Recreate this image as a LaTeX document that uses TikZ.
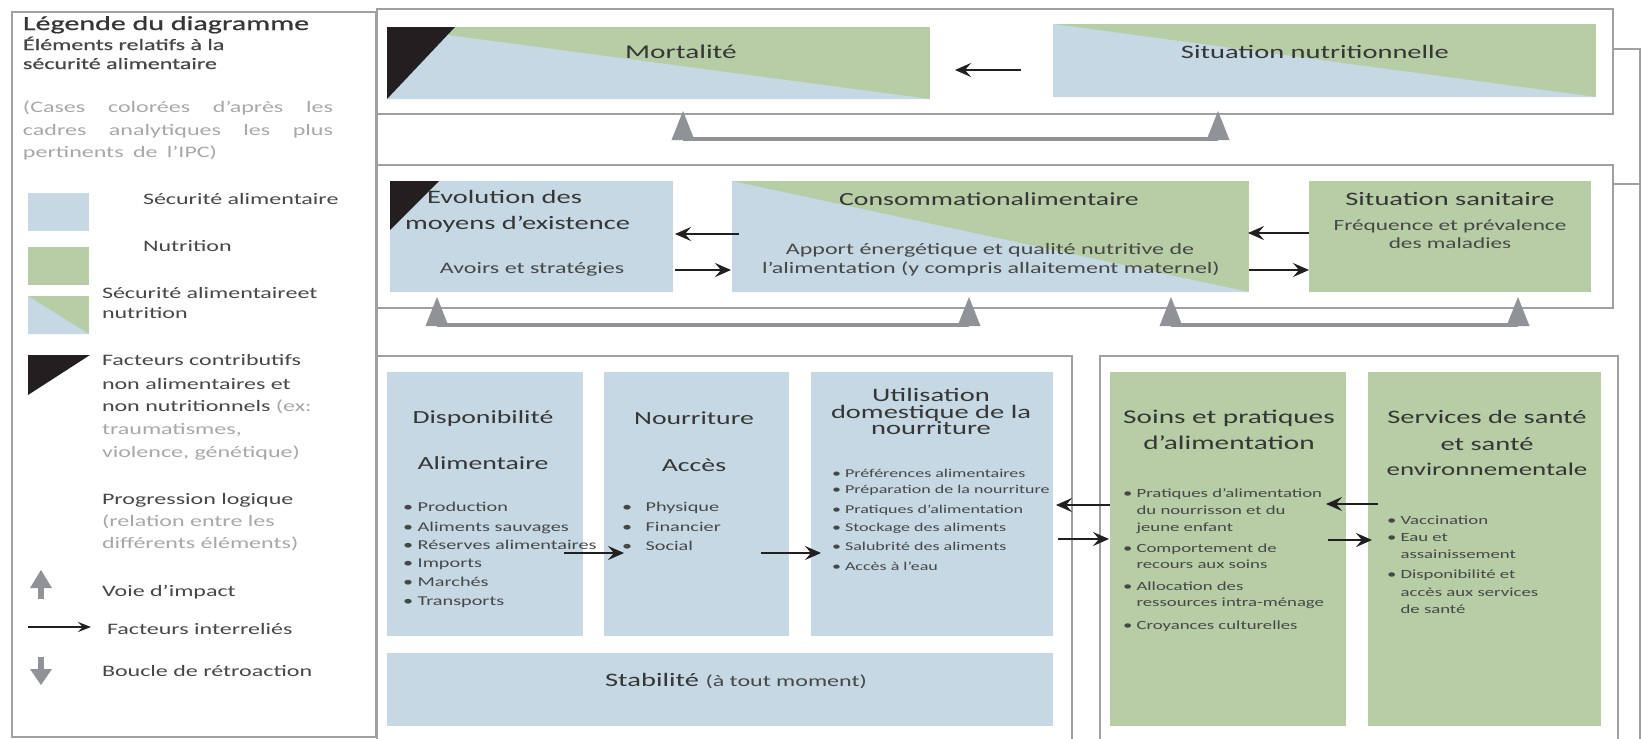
\documentclass[tikz,border=0pt]{standalone}
\usepackage{fontspec}
\setmainfont{Carlito}[FakeStretch=1.5]
\newfontfamily\semib{Carlito}[FakeStretch=1.5,FakeBold=0.7]
\usetikzlibrary{arrows.meta,calc,fit}
\definecolor{fsblue}{HTML}{C5D8E3}
\definecolor{nutgreen}{HTML}{B7CDA6}
\definecolor{framegray}{HTML}{9EA0A4}
\definecolor{impgray}{HTML}{8F9297}
\definecolor{txtdark}{HTML}{363636}
\definecolor{txtmid}{HTML}{474747}
\definecolor{txtlight}{HTML}{A8A8A8}
\definecolor{blk}{HTML}{231F20}
\newcommand{\fsz}[1]{\fontsize{#1}{#1}\selectfont}
\newcommand{\bulx}{•\ }
\newcommand{\bulind}{\hphantom{•\ }}
\begin{document}
\begin{tikzpicture}[x=1pt,y=-1pt,
  every node/.style={inner sep=0pt,outer sep=0pt},
  frm/.style={draw=framegray,line width=2pt,inner sep=0pt},
  fbl/.style={draw=framegray,line width=2pt},
  lg/.style={anchor=base west,font=\fsz{16},text=txtmid},
  mt/.style={anchor=base,font=\fsz{19},text=txtdark},
  bt/.style={anchor=base,font=\fsz{16},text=txtmid},
  bl/.style={anchor=base west,font=\fsz{12.5},text=txtmid},
  iarr/.style={draw=blk,line width=2pt,-{Stealth[length=16pt,width=14pt,inset=6pt]}},
  impline/.style={draw=impgray,line width=3.5pt},
  imptri/.pic={\fill[impgray] (-11.5,0) -- (0,-29) -- (11.5,0) -- cycle;}
]
\useasboundingbox (0,0) rectangle (1642,739);
\fill[white] (0,0) rectangle (1642,739);
\clip (0,0) rectangle (1642,739);

% ---------- legend ----------
\node[frm,fit={(12,12) (376,737)}] (leg) {};
\node[lg,font=\semib\fsz{20},text=txtdark] (lt) at (23,30) {Légende du diagramme};
\node[lg,font=\semib\fsz{16}] (l1) at (23,50) {Éléments relatifs à la};
\node[lg,font=\semib\fsz{16}] (l2) at (23,69) {sécurité alimentaire};
\node[lg,text=txtlight] (l3) at (23,112) {\makebox[310pt][s]{(Cases colorées d'après les}};
\node[lg,text=txtlight] (l4) at (23,135) {\makebox[310pt][s]{cadres analytiques les plus}};
\node[lg,text=txtlight] (l5) at (23,157) {\makebox[194pt][s]{pertinents de l'IPC)}};

\node[fill=fsblue,fit={(28,193) (89,231)}] (sw1) {};
\node[fill=nutgreen,fit={(28,247) (89,285)}] (sw2) {};
\node[fill=nutgreen,fit={(28,296) (89,334)}] (sw3) {};
\fill[fsblue] (sw3.north west) -- (sw3.south east) -- (sw3.south west) -- cycle;
\fill[blk] (28,355) -- (90,355) -- (28,395) -- cycle;

\node[lg] (t1) at (143,204) {Sécurité alimentaire};
\node[lg] (t2) at (143,251) {Nutrition};
\node[lg] (t3) at (102,298) {Sécurité alimentaireet};
\node[lg] (t4) at (102,318) {nutrition};
\node[lg] (t5) at (102,365) {Facteurs contributifs};
\node[lg] (t6) at (102,389) {non alimentaires et};
\node[lg] (t7) at (102,411) {non nutritionnels \textcolor{txtlight}{(ex:}};
\node[lg,text=txtlight] (t8) at (102,434) {traumatismes,};
\node[lg,text=txtlight] (t9) at (102,457) {violence, génétique)};
\node[lg] (t10) at (102,504) {Progression logique};
\node[lg,text=txtlight] (t11) at (102,526) {(relation entre les};
\node[lg,text=txtlight] (t12) at (102,548) {différents éléments)};
\node[lg] (t13) at (102,596) {Voie d'impact};
\node[lg] (t14) at (107,634) {Facteurs interreliés};
\node[lg] (t15) at (102,676) {Boucle de rétroaction};

\fill[impgray] (30,588) -- (41,570) -- (52,588) -- cycle;
\fill[impgray] (38,587) rectangle (44,599);
\coordinate (la1) at (28,627);
\coordinate (la2) at (91,627);
\draw[iarr,line width=1.5pt,-{Stealth[length=13pt,width=10pt,inset=5pt]}] (la1) -- (la2);
\fill[impgray] (38,657) rectangle (44,670);
\fill[impgray] (30,669) -- (52,669) -- (41,685) -- cycle;

% ---------- frames ----------
\node[frm,fit={(377,9) (1613,114)}] (f1) {};
\node[frm,fit={(377,165) (1613,308)}] (f2) {};
\node[frm,fit={(377,356) (1072,770)}] (f3) {};
\node[frm,fit={(1100,356) (1618,770)}] (f4) {};
\draw[fbl] (f1.north west) -- (f3.south west);

\coordinate (fb1) at (1640,49);
\coordinate (fb2) at (1640,184);
\coordinate (fb3) at (1640,770);
\draw[fbl] ($(f1.east)+(0,-12.5)$) -- (fb1) -- (fb3);
\draw[fbl] ($(f2.east)+(0,-52.5)$) -- (fb2);

% ---------- top row ----------
\node[fill=nutgreen,fit={(387,27) (930,99)}] (mort) {};
\fill[fsblue] (mort.north west) -- (mort.south east) -- (mort.south west) -- cycle;
\fill[blk] (mort.north west) -- ++(68,0) -- (mort.south west) -- cycle;
\node[mt,font=\fsz{19.5}] (mortt) at (681,58) {Mortalité};

\node[fill=nutgreen,fit={(1053,24) (1596,97)}] (sitn) {};
\fill[fsblue] (sitn.north west) -- (sitn.south east) -- (sitn.south west) -- cycle;
\node[mt] (sitnt) at (1315,58) {Situation nutritionnelle};

% ---------- second row ----------
\node[fill=fsblue,fit={(390,181) (673,292)}] (evol) {};
\fill[blk] (evol.north west) -- ++(49,0) -- ($(evol.north west)+(0,49)$) -- cycle;
\node[mt,anchor=base west] (evt1) at (427,203) {Evolution des};
\node[mt,anchor=base west] (evt2) at (405,229) {moyens d'existence};
\node[bt] (evt3) at (532,273) {Avoirs et stratégies};

\node[fill=nutgreen,fit={(732,181) (1249,292)}] (cons) {};
\fill[fsblue] (cons.north west) -- (cons.south east) -- (cons.south west) -- cycle;
\node[mt,font=\fsz{18.5}] (cot1) at (989,205) {Consommationalimentaire};
\node[bt] (cot2) at (990,254) {Apport énergétique et qualité nutritive de};
\node[bt] (cot3) at (991,273) {l'alimentation (y compris allaitement maternel)};

\node[fill=nutgreen,fit={(1309,181) (1591,292)}] (sani) {};
\node[mt] (sat1) at (1450,205) {Situation sanitaire};
\node[bt,font=\fsz{15.5}] (sat2) at (1450,230) {Fréquence et prévalence};
\node[bt,font=\fsz{15.5}] (sat3) at (1450,248) {des maladies};

% ---------- bottom left ----------
\node[fill=fsblue,fit={(387,372) (583,636)}] (disp) {};
\node[mt,font=\fsz{18.5}] (dt1) at (483,423) {Disponibilité};
\node[mt,font=\fsz{18.5}] (dt2) at (483,469) {Alimentaire};
\foreach \t/\yy [count=\i] in {Production/511,Aliments sauvages/531,Réserves alimentaires/549,Imports/567,Marchés/586,Transports/605}
  \node[bl,font=\fsz{13.5}] (db\i) at (403,\yy) {\bulx\t};

\node[fill=fsblue,fit={(604,372) (789,636)}] (nour) {};
\node[mt,font=\fsz{18.5}] (nt1) at (694,424) {Nourriture};
\node[mt,font=\fsz{18.5}] (nt2) at (694,471) {Accès};
\foreach \t/\yy [count=\i] in {Physique/511,Financier/531,Social/550}
  \node[bl,font=\fsz{13.5}] (nb\i) at (622,\yy) {•\quad\t};

\node[fill=fsblue,fit={(811,372) (1053,636)}] (util) {};
\node[mt] (ut1) at (931,401) {Utilisation};
\node[mt] (ut2) at (931,418) {domestique de la};
\node[mt] (ut3) at (931,434) {nourriture};
\foreach \t/\yy [count=\i] in {Préférences alimentaires/477,Préparation de la nourriture/493,Pratiques d'alimentation/513,Stockage des aliments/531,Salubrité des aliments/550,Accès à l'eau/570}
  \node[bl,font=\fsz{12}] (ub\i) at (832,\yy) {\bulx\t};

\node[fill=fsblue,fit={(387,653) (1053,726)}] (stab) {};
\node[mt] (stt) at (736,686) {Stabilité \fsz{16}\color{txtmid}(à tout moment)};

% ---------- bottom right ----------
\node[fill=nutgreen,fit={(1110,372) (1346,726)}] (soin) {};
\node[mt,font=\fsz{19.5}] (so1) at (1229,423) {Soins et pratiques};
\node[mt,font=\fsz{19.5}] (so2) at (1229,449) {d'alimentation};
\foreach \t/\yy [count=\i] in {{\bulx Pratiques d'alimentation}/497,{\bulind du nourrisson et du}/514,{\bulind jeune enfant}/531,{\bulx Comportement de}/552,{\bulind recours aux soins}/568,{\bulx Allocation des}/590,{\bulind ressources intra-ménage}/606,{\bulx Croyances culturelles}/629}
  \node[bl] (sb\i) at (1123,\yy) {\t};

\node[fill=nutgreen,fit={(1368,372) (1601,726)}] (serv) {};
\node[mt] (se1) at (1487,423) {Services de santé};
\node[mt] (se2) at (1487,450) {et santé};
\node[mt,font=\fsz{18}] (se3) at (1487,475) {environnementale};
\foreach \t/\yy [count=\i] in {{\bulx Vaccination}/524,{\bulx Eau et}/541,{\bulind assainissement}/558,{\bulx Disponibilité et}/578,{\bulind accès aux services}/596,{\bulind de santé}/613}
  \node[bl] (vb\i) at (1387,\yy) {\t};

% ---------- interrelated arrows ----------
\draw[iarr] ($(sitn.west)+(-32,9.5)$) -- ($(mort.east)+(25,7)$);
\draw[iarr] ($(cons.west)+(7,-2.5)$) -- ($(evol.east)+(2,-2.5)$);
\draw[iarr] ($(evol.east)+(2,33.5)$) -- ($(cons.west)+(-1,33.5)$);
\draw[iarr] ($(sani.west)+(0,-3.5)$) -- ($(cons.east)+(-1,-3.5)$);
\draw[iarr] ($(cons.east)+(0,33.5)$) -- ($(sani.west)+(0,33.5)$);
\draw[iarr] ($(disp.east)+(-19,49)$) -- ($(nour.west)+(20,49)$);
\draw[iarr] ($(nour.east)+(-28,49)$) -- ($(util.west)+(10,49)$);
\draw[iarr] ($(soin.west)+(0,-44)$) -- ($(util.east)+(3,1)$);
\draw[iarr] ($(util.east)+(5,35)$) -- ($(soin.west)+(-1,-10)$);
\draw[iarr] ($(serv.west)+(10,-45)$) -- ($(soin.east)+(-20,-45)$);
\draw[iarr] ($(soin.east)+(-18,-9)$) -- ($(serv.west)+(4,-9)$);

% ---------- impact pathways ----------
\coordinate (ia) at (683,139);
\coordinate (ib) at (1218,139);
\coordinate (ic) at (437,325);
\coordinate (id) at (969,325);
\coordinate (ie) at (1171,325);
\coordinate (ig) at (1518,325);
\draw[impline] (ia) -- (ib);
\draw[impline] (ic) -- (id);
\draw[impline] (ie) -- (ig);
\foreach \c in {ia,ib,ic,id,ie,ig}
  \pic at ($(\c)+(0,1)$) {imptri};
\end{tikzpicture}
\end{document}
